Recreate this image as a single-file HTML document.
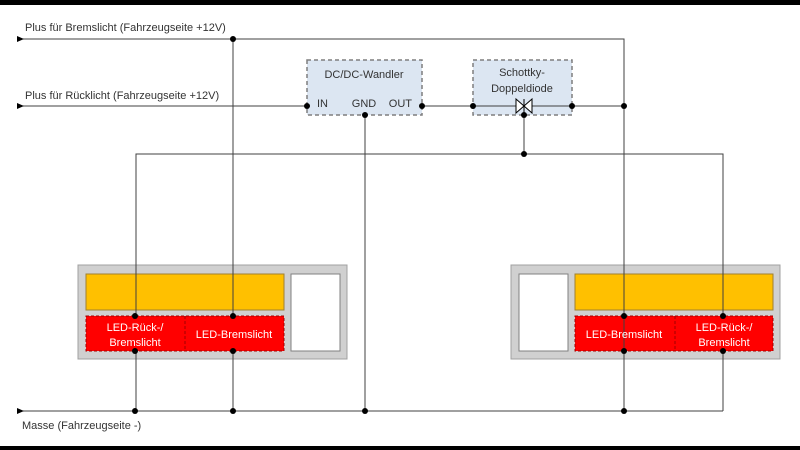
<!DOCTYPE html>
<html><head><meta charset="utf-8"><style>
html,body{margin:0;padding:0;background:#fff}
svg{display:block}
text{font-family:"Liberation Sans",sans-serif}
</style></head><body>
<svg width="800" height="450" viewBox="0 0 800 450" xmlns="http://www.w3.org/2000/svg">
<rect x="0" y="0" width="800" height="450" fill="#fff"/>
<rect x="0" y="0" width="800" height="5" fill="#000"/>
<rect x="0" y="446" width="800" height="4" fill="#000"/>
<!-- boxes -->
<rect x="307" y="60" width="115" height="55" fill="#dce6f2" stroke="#7f7f7f" stroke-width="1.5" stroke-dasharray="4,3"/>
<rect x="473" y="60" width="99" height="55" fill="#dce6f2" stroke="#7f7f7f" stroke-width="1.5" stroke-dasharray="4,3"/>
<!-- lamps -->
<rect x="78" y="265" width="269" height="94" fill="#d0d0d0" stroke="#a0a0a0"/>
<rect x="86" y="274" width="198" height="36" fill="#ffc000" stroke="#a08030"/>
<rect x="86" y="316" width="198" height="35" fill="#ff0000" stroke="#a00000" stroke-dasharray="3,2"/>
<line x1="185" y1="316" x2="185" y2="351" stroke="#a00000" stroke-dasharray="3,2"/>
<rect x="291" y="274" width="49" height="77" fill="#fff" stroke="#808080"/>
<rect x="511" y="265" width="269" height="94" fill="#d0d0d0" stroke="#a0a0a0"/>
<rect x="575" y="274" width="198" height="36" fill="#ffc000" stroke="#a08030"/>
<rect x="575" y="316" width="198" height="35" fill="#ff0000" stroke="#a00000" stroke-dasharray="3,2"/>
<line x1="675" y1="316" x2="675" y2="351" stroke="#a00000" stroke-dasharray="3,2"/>
<rect x="519" y="274" width="49" height="77" fill="#fff" stroke="#808080"/>
<!-- wires -->
<g stroke="#404040" stroke-width="1" fill="none">
<path d="M17 39 H624 V411"/>
<path d="M17 106 H307"/>
<path d="M422 106 H473"/>
<path d="M572 106 H624"/>
<path d="M473 106 H572"/>
<path d="M365 115 V411"/>
<path d="M524 115 V154"/>
<path d="M136 316 V154 H723 V316"/>
<path d="M233 39 V316"/>
<path d="M136 351 V411"/>
<path d="M233 351 V411"/>
<path d="M624 351 V411"/>
<path d="M723 351 V411"/>
<path d="M17 411 H723"/>
</g>
<g fill="#000">
<polygon points="17,36 24,39 17,42"/>
<polygon points="17,103 24,106 17,109"/>
<polygon points="17,408 24,411 17,414"/>
</g>
<!-- diode -->
<g stroke="#000" stroke-width="1" fill="#fff">
<polygon points="516,99 524,106 516,113"/>
<polygon points="532,99 524,106 532,113"/>
<line x1="524" y1="99" x2="524" y2="113"/>
</g>
<g fill="#000">
<circle cx="233" cy="39" r="3"/><circle cx="307" cy="106" r="3"/><circle cx="365" cy="115" r="3"/>
<circle cx="422" cy="106" r="3"/><circle cx="473" cy="106" r="3"/><circle cx="572" cy="106" r="3"/>
<circle cx="624" cy="106" r="3"/><circle cx="524" cy="115" r="3"/><circle cx="524" cy="154" r="3"/>
<circle cx="135" cy="316" r="3"/><circle cx="233" cy="316" r="3"/><circle cx="135" cy="351" r="3"/><circle cx="233" cy="351" r="3"/>
<circle cx="624" cy="316" r="3"/><circle cx="723" cy="316" r="3"/><circle cx="624" cy="351" r="3"/><circle cx="723" cy="351" r="3"/>
<circle cx="135" cy="411" r="3"/><circle cx="233" cy="411" r="3"/><circle cx="365" cy="411" r="3"/><circle cx="624" cy="411" r="3"/>
</g>
<g font-size="11" fill="#333">
<text x="25" y="31">Plus für Bremslicht (Fahrzeugseite +12V)</text>
<text x="25" y="99">Plus für Rücklicht (Fahrzeugseite +12V)</text>
<text x="22" y="429">Masse (Fahrzeugseite -)</text>
<text x="364" y="78" text-anchor="middle">DC/DC-Wandler</text>
<text x="317" y="107">IN</text>
<text x="364" y="107" text-anchor="middle">GND</text>
<text x="412" y="107" text-anchor="end">OUT</text>
<text x="522" y="76" text-anchor="middle">Schottky-</text>
<text x="522" y="92" text-anchor="middle">Doppeldiode</text>
</g>
<g font-size="11" fill="#fff" text-anchor="middle">
<text x="135" y="331">LED-Rück-/</text>
<text x="135" y="346">Bremslicht</text>
<text x="234" y="338">LED-Bremslicht</text>
<text x="624" y="338">LED-Bremslicht</text>
<text x="724" y="331">LED-Rück-/</text>
<text x="724" y="346">Bremslicht</text>
</g>
</svg>
</body></html>
